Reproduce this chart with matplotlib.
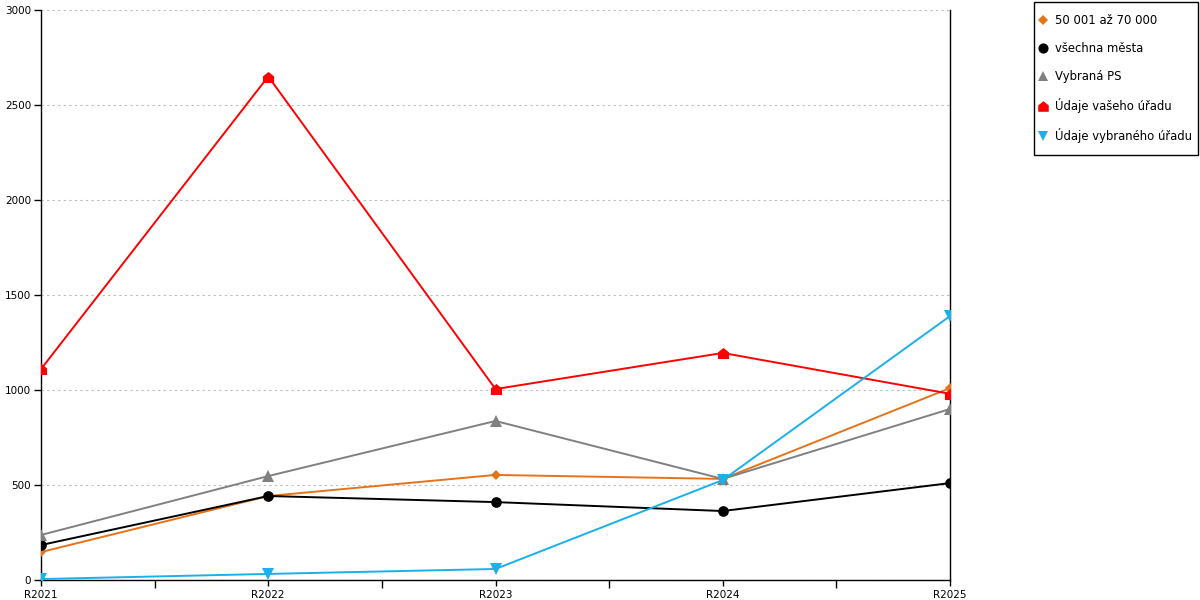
import matplotlib as mpl
mpl.use('Agg')
import matplotlib.pyplot as plt
import matplotlib.patches as patches
from matplotlib.path import Path
from matplotlib.lines import Line2D

#
#--- data
#
years     = ['R2021', 'R2022', 'R2023', 'R2024', 'R2025']
orange_v  = [147, 442, 553, 532, 1010]
black_v   = [184, 442, 410, 363, 510]
gray_v    = [237, 547, 837, 532, 900]
red_v     = [1110, 2650, 1005, 1195, 980]
blue_v    = [5, 32, 58, 526, 1389]

names     = ['50 001 až 70 000', 'všechna města', 'Vybraná PS',
             'Údaje vašeho úřadu', 'Údaje vybraného úřadu']

#
#--- house shaped marker for the red series
#
house = Path([(-1, -1), (1, -1), (1, 0.2), (0, 1), (-1, 0.2), (-1, -1)],
             [Path.MOVETO, Path.LINETO, Path.LINETO, Path.LINETO, Path.LINETO,
              Path.CLOSEPOLY])

series = [
    (orange_v, '#E5731B', 'D', 5.3),
    (black_v,  '#000000', 'o', 7.7),
    (gray_v,   '#808080', '^', 8),
    (red_v,    '#FF0000', house, 8),
    (blue_v,   '#1AB0EC', 'v', 8),
]

mpl.rcParams['font.family'] = 'DejaVu Sans'
mpl.rcParams['font.size'] = 7.5

fig = plt.figure(figsize=(12, 6), dpi=100)
ax = fig.add_axes([41 / 1200, 20 / 600, 909 / 1200, 570 / 600])

x = list(range(len(years)))
handles = []
for (vals, col, mk, ms), name in zip(series, names):
    ax.plot(x, vals, color=col, linewidth=1.4, marker=mk, markersize=ms,
            markeredgewidth=0, zorder=3)
    handles.append(Line2D([], [], color=col, marker=mk, markersize=ms * 0.95,
                          linestyle='none', markeredgewidth=0, label=name))

ax.set_xlim(0, len(years) - 1)
ax.set_ylim(0, 3000)
ax.set_yticks([0, 500, 1000, 1500, 2000, 2500, 3000])
ax.set_xticks(x)
ax.set_xticklabels(years)
ax.set_xticks([i + 0.5 for i in range(len(years) - 1)], minor=True)
ax.tick_params(axis='x', which='major', length=4, width=1, direction='out', pad=3)
ax.tick_params(axis='x', which='minor', length=6, width=1, direction='out')
ax.tick_params(axis='y', length=5, width=1, direction='out', pad=2)

ax.grid(axis='y', color='#BBBBBB', linestyle=(0, (2, 3)), linewidth=0.8)
ax.set_axisbelow(True)

ax.spines['top'].set_visible(False)
for s in ['left', 'right', 'bottom']:
    ax.spines[s].set_color('black')
    ax.spines[s].set_linewidth(1)

#
#--- legend: entries without frame, box drawn separately
#
leg = fig.legend(handles=handles, loc='upper left',
                 bbox_to_anchor=(1038 / 1200, 1 - 14 / 600), frameon=False,
                 handlelength=0.8, handletextpad=0.65, labelspacing=1.29,
                 borderpad=0, borderaxespad=0, fontsize=8.4)

box = patches.Rectangle((1034 / 1200, 1 - 155 / 600), 164 / 1200, 153 / 600,
                        transform=fig.transFigure, fill=False,
                        edgecolor='black', linewidth=1)
fig.patches.append(box)

plt.savefig('out.png', dpi=100)
plt.close('all')
